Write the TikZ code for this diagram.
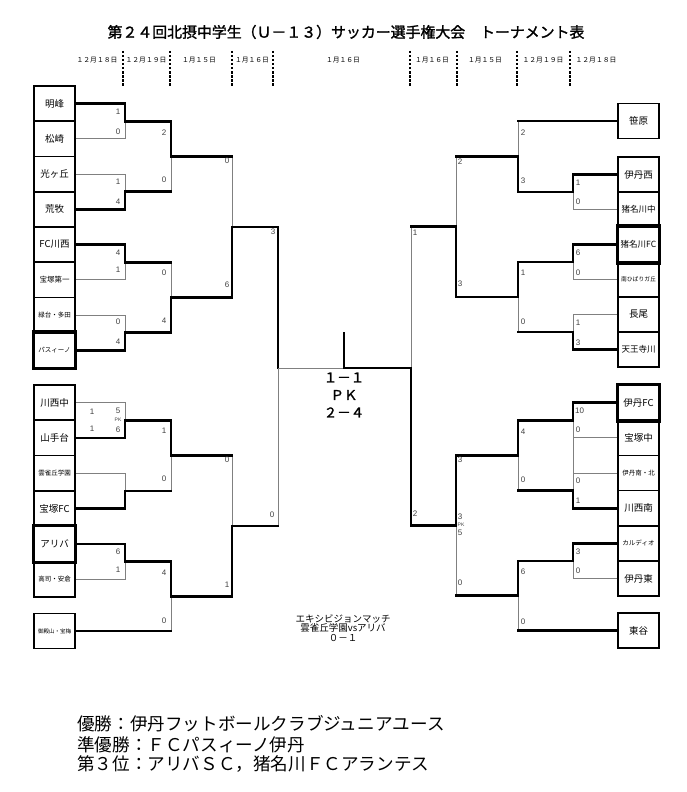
\documentclass[tikz,border=0pt]{standalone}
\usepackage{fontspec}
\setmainfont{Liberation Sans}
\newfontfamily\jp{Noto Sans CJK JP}
\newfontfamily\jpbold[FakeBold=1.6]{Noto Sans CJK JP}
\usetikzlibrary{positioning}

\tikzset{
  win/.style={black, line width=2.6pt, line cap=rect},
  lose/.style={black!50, line width=0.9pt},
  team/.style={draw, line width=1.6pt, minimum width=41pt, minimum height=35.25pt, inner sep=0pt, font=\jp\fontsize{#1}{#1}\selectfont},
  score/.style={inner sep=0pt, text=black!75, font=\fontsize{8}{8}\selectfont},
  pk/.style={inner sep=0pt, text=black!75, font=\fontsize{5}{5}\selectfont},
  day/.style={inner sep=0pt, font=\jp\fontsize{6.8}{6.8}\selectfont},
  daysep/.style={line width=1.2pt, dash pattern=on 2.5pt off 1.5pt},
}

\begin{document}
\begin{tikzpicture}[x=1pt,y=-1pt]

\useasboundingbox (0,0) rectangle (686,792);

%title and days
\node[font=\jpbold\fontsize{14.9}{14.9}\selectfont] (title) at (346,32) {第２４回北摂中学生（Ｕ－１３）サッカー選手権大会　トーナメント表};

\foreach \x/\t [count=\i] in {97/１２月１８日,146/１２月１９日,199/１月１５日,252/１月１６日,343/１月１６日,432/１月１６日,485/１月１５日,543/１２月１９日,596/１２月１８日}
  \node[day] (day\i) at (\x,60) {\t};
\foreach \x in {123,170,232,273,410,457,517,570} \draw[daysep] (\x,51) -- (\x,86);

%%%%%%%  teams, left side %%%%%%%
\foreach \name/\fs [count=\i] in {明峰/9.5,松崎/9.5,光ヶ丘/9.5,荒牧/9.5,FC川西/9.5,宝塚第一/7.5,緑台・多田/6.5,パスィーノ/6.5}
  \node[team=\fs] (L\i) at (54.5,{103.6+35.25*(\i-1)}) {\name};
\foreach \name/\fs [count=\i from 9] in {川西中/9.5,山手台/9.5,雲雀丘学園/6.5,宝塚FC/9.5,アリバ/9.5,高司・安倉/6.5}
  \node[team=\fs] (L\i) at (54.5,{402.65+35.3*(\i-9)}) {\name};
\node[team=5.5] (L15) at (54.5,631) {御殿山・宝梅};

%%%%%%%  teams, right side %%%%%%%
\node[team=9.5] (R1) at (638.5,121) {笹原};
\foreach \name/\fs [count=\i from 2] in {伊丹西/9.5,猪名川中/8.5,猪名川FC/8.5,南ひばりガ丘/5.8,長尾/9.5,天王寺川/8.5}
  \node[team=\fs] (R\i) at (638.5,{174.5+35*(\i-2)}) {\name};
\foreach \name/\fs [count=\i from 8] in {伊丹FC/9.5,宝塚中/9.5,伊丹南・北/6.5,川西南/9.5,カルディオ/6.5,伊丹東/9.5}
  \node[team=\fs] (R\i) at (638.5,{402.6+35.2*(\i-8)}) {\name};
\node[team=9.5] (R14) at (638.5,630.5) {東谷};

%winners' boxes
\foreach \t in {L8,L13,R4,R8} \draw[line width=3.2pt] (\t.south west) rectangle (\t.north east);

%junctions
\coordinate (a1) at (125,121.25);
\coordinate (a2) at (125,191.75);
\coordinate (a3) at (125,262.25);
\coordinate (a4) at (125,332.75);
\coordinate (a5) at (125,420.3);
\coordinate (a6) at (125,490.9);
\coordinate (a7) at (125,561.5);
\coordinate (b1) at (171,156.5);
\coordinate (b2) at (171,297.5);
\coordinate (b3) at (171,455.6);
\coordinate (b4) at (171,596.25);
\coordinate (c1) at (232,227);
\coordinate (c2) at (232,525.9);
\coordinate (d1) at (278,368);

\coordinate (a8) at (573,192);
\coordinate (a9) at (573,262);
\coordinate (a10) at (573,332);
\coordinate (a11) at (573,420.2);
\coordinate (a12) at (573,490.6);
\coordinate (a13) at (573,561);
\coordinate (b5) at (518,156.5);
\coordinate (b6) at (518,297);
\coordinate (b7) at (518,455.4);
\coordinate (b8) at (518,595.75);
\coordinate (c3) at (456,226.75);
\coordinate (c4) at (456,525.6);
\coordinate (d2) at (411,368);

\coordinate (fin) at (344,368);
\coordinate (fintop) at (344,333);

%round 1
\foreach \w/\l/\m in {L1/L2/a1,L4/L3/a2,L5/L6/a3,L8/L7/a4,L10/L9/a5,L12/L11/a6,L13/L14/a7}{
  \draw[lose] (\l.east) -| (\m);
  \draw[win] (\w.east) -| (\m);
}
\foreach \w/\l/\m in {R2/R3/a8,R4/R5/a9,R7/R6/a10,R8/R9/a11,R11/R10/a12,R12/R13/a13}{
  \draw[lose] (\l.west) -| (\m);
  \draw[win] (\w.west) -| (\m);
}
\draw[lose] (a11) -- (a12);

%round 2 to semi final
\foreach \w/\l/\m in {a1/a2/b1,a4/a3/b2,a5/a6/b3,a7/L15.east/b4,b2/b1/c1,b4/b3/c2,c1/c2/d1,a8/R1.west/b5,a9/a10/b6,a11/a12/b7,a13/R14.west/b8,b6/b5/c3,b7/b8/c4,c4/c3/d2}{
  \draw[lose] (\l) -| (\m);
  \draw[win] (\l) -- (\l -| \m);
  \draw[win] (\w) -| (\m);
}

%final
\draw[lose] (d1) -- (fin);
\draw[win] (d2) -- (fin) -- (fintop);
\node[font=\jpbold\fontsize{13.5}{17.5}\selectfont, align=center] (final) at (344,395) {１－１\\ＰＫ\\２－４};

%scores, left
\foreach \x/\y/\s [count=\i] in {118/112/1,118/132/0,118/182/1,118/202/4,118/253/4,118/270/1,118/322/0,118/342/4,118/552/6,118/570/1,
  164/133/2,164/180/0,164/273/0,164/321/4,164/431/1,164/479/0,164/573/4,164/621/0,
  227/161/0,227/285/6,227/460/0,227/585/1,273/232/3,272/515/0,
  92/412/1,118/411/5,92/429/1,118/430/6}
  \node[score] (sl\i) at (\x,\y) {\s};
\node[pk] (pkl) at (118,420) {PK};

%scores, right
\foreach \x/\y/\s [count=\i] in {578/183/1,578/202/0,578/253/6,578/273/0,578/323/1,578/343/3,579.5/411/10,578/430/0,578/481/0,578/501/1,578/552/3,578/571/0,
  523/133/2,523/181/3,523/273/1,523/322/0,523/432/4,523/480/0,523/572/6,523/622/0,
  460/162/2,460/284/3,460/460/3,460/583/0,460/517/3,460/533/5,
  415/233/1,415/514/2}
  \node[score] (sr\i) at (\x,\y) {\s};
\node[pk] (pkr) at (461,525) {PK};

%exhibition
\node[font=\jp\fontsize{9.5}{9.5}\selectfont, align=center] (exhib) at (343,628) {エキシビジョンマッチ\\雲雀丘学園vsアリバ\\０－１};

%results
\node[anchor=west, inner sep=0pt, font=\jp\fontsize{17.6}{17.6}\selectfont] (res1) at (77,724) {優勝：伊丹フットボールクラブジュニアユース};
\node[anchor=west, inner sep=0pt, font=\jp\fontsize{17.6}{17.6}\selectfont] (res2) at (77,745) {準優勝：ＦＣパスィーノ伊丹};
\node[anchor=west, inner sep=0pt, font=\jp\fontsize{17.6}{17.6}\selectfont] (res3) at (77,764) {第３位：アリバＳＣ，猪名川ＦＣアランテス};

\end{tikzpicture}
\end{document}
